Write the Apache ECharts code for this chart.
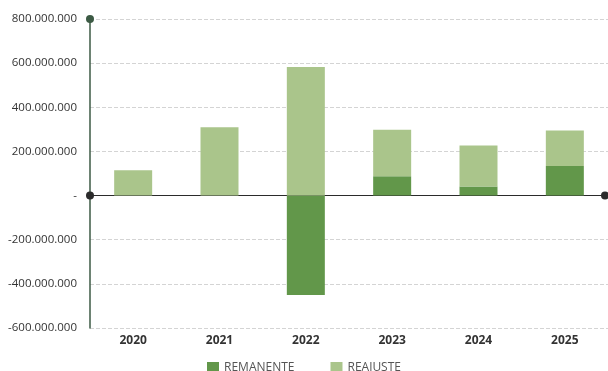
<!DOCTYPE html>
<html>
<head>
<meta charset="utf-8">
<script src="https://cdn.jsdelivr.net/npm/echarts@6/dist/echarts.min.js"></script>
<style>
html,body{margin:0;padding:0;background:#fff;}
#chart{width:608px;height:371px;}
</style>
</head>
<body>
<div id="chart"></div>
<script>
// Annual amounts by year
const years = ['2020', '2021', '2022', '2023', '2024', '2025'];
const remanente = [0, 0, -450000000, 87000000, 41000000, 134000000];
const reajuste = [115000000, 310000000, 582000000, 211000000, 186000000, 161000000];

const fmt = v => {
  if (v === 0) return '-';
  const s = Math.abs(v).toString().replace(/\B(?=(\d{3})+(?!\d))/g, '.');
  return (v < 0 ? '-' : '') + s;
};

const chart = echarts.init(document.getElementById('chart'));
chart.setOption({
  animation: false,
  textStyle: { fontFamily: 'Open Sans' },
  grid: { left: 90, width: 521, top: 19, bottom: 43 },
  legend: {
    top: 357,
    left: 'center',
    itemWidth: 12,
    itemHeight: 12,
    itemGap: 36,
    icon: 'rect',
    textStyle: { color: '#555', fontSize: 12, fontFamily: 'Open Sans' },
    data: ['REMANENTE', 'REAJUSTE']
  },
  xAxis: {
    type: 'category',
    data: years,
    axisTick: { show: false },
    axisLine: {
      onZero: true,
      lineStyle: { color: '#2b2b2b', width: 1.2 },
      symbol: ['circle', 'circle'],
      symbolSize: [8, 8],
      symbolOffset: [0, -3]
    },
    axisLabel: {
      color: '#333',
      fontWeight: 'bold',
      fontSize: 12,
      margin: 7
    },
    position: 'bottom'
  },
  yAxis: {
    type: 'value',
    min: -600000000,
    max: 800000000,
    interval: 200000000,
    axisLine: {
      show: true,
      lineStyle: { color: '#3c5a44', width: 1.5 },
      symbol: ['none', 'circle'],
      symbolSize: [8, 8]
    },
    axisTick: { show: false },
    axisLabel: {
      color: '#333',
      fontSize: 11.5,
      margin: 13,
      formatter: fmt
    },
    splitLine: { lineStyle: { color: '#d4d4d4', type: 'dashed' } }
  },
  series: [
    {
      name: 'REMANENTE',
      type: 'bar',
      stack: 'total',
      barWidth: 38,
      itemStyle: { color: '#62974a' },
      data: remanente
    },
    {
      name: 'REAJUSTE',
      type: 'bar',
      stack: 'total',
      barWidth: 38,
      itemStyle: { color: '#aac58b' },
      data: reajuste
    }
  ]
});
</script>
</body>
</html>
